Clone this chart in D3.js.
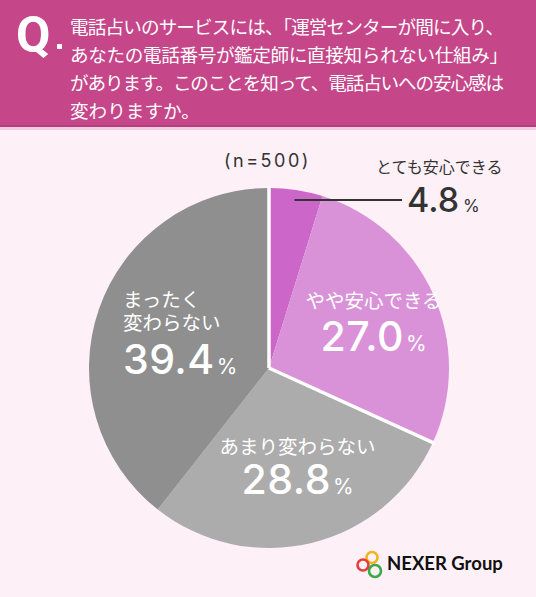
<!DOCTYPE html>
<html>
<head>
<meta charset="utf-8">
<script src="https://d3js.org/d3.v7.min.js"></script>
<style>
  body { margin: 0; background: #fdf0f7; }
  svg { display: block; font-family: "Noto Sans CJK JP", "Noto Sans", sans-serif; }
</style>
</head>
<body>
<div id="chart"></div>
<script>
// data
var categories = ["とても安心できる", "やや安心できる", "あまり変わらない", "まったく変わらない"];
var values = [4.8, 27.0, 28.8, 39.4];
var labelLines = [["とても安心できる"], ["やや安心できる"], ["あまり変わらない"], ["まったく", "変わらない"]];
var sampleText = "(n=500)";
var questionLines = [
  "電話占いのサービスには、「運営センターが間に入り、",
  "あなたの電話番号が鑑定師に直接知られない仕組み」",
  "があります。このことを知って、電話占いへの安心感は",
  "変わりますか。"
];
var colors = ["#cc66c9", "#d992d8", "#acacac", "#8f8f8f"];

var w = 536, h = 597;
var cx = 269, cy = 368, radius = 180;
var numFont = "Inter, 'Noto Sans', sans-serif";

var svg = d3.select("#chart").append("svg")
  .attr("width", w)
  .attr("height", h);

svg.append("rect").attr("width", w).attr("height", h).attr("fill", "#fdf0f7");

// header
svg.append("rect").attr("x", 0).attr("y", 0).attr("width", w).attr("height", 127).attr("fill", "#c6468a");
svg.append("rect").attr("x", 0).attr("y", 125).attr("width", w).attr("height", 2).attr("fill", "#b53d7e");
svg.append("rect").attr("x", 0).attr("y", 127).attr("width", w).attr("height", 3).attr("fill", "#f3cde1");

svg.append("text")
  .attr("x", 16).attr("y", 52)
  .attr("font-family", "Roboto, 'Noto Sans', sans-serif")
  .attr("font-size", 50).attr("font-weight", 700)
  .attr("fill", "#fff")
  .text("Q");
svg.append("rect").attr("x", 57).attr("y", 44).attr("width", 5).attr("height", 5).attr("fill", "#fff");

var qWidths = [434, 438, 434, null];
svg.selectAll(".qline")
  .data(questionLines)
  .enter()
  .append("text")
  .attr("class", "qline")
  .attr("x", 70)
  .attr("y", function(d, i) { return 25 + i * 28.2; })
  .attr("dominant-baseline", "central")
  .attr("font-size", 18.6)
  .attr("fill", "#fff")
  .each(function(d, i) {
    if (qWidths[i]) d3.select(this).attr("textLength", qWidths[i]).attr("lengthAdjust", "spacing");
  })
  .text(function(d) { return d; });

// pie
var pie = d3.pie().sort(null).value(function(d) { return d; });
var arcs = pie(values);
var arc = d3.arc().innerRadius(0).outerRadius(radius);
var labelArc = d3.arc().innerRadius(108).outerRadius(108);
var leaderArc = d3.arc().innerRadius(170).outerRadius(170);

var g = svg.append("g").attr("transform", "translate(" + cx + "," + cy + ")");

g.selectAll("path")
  .data(arcs)
  .enter()
  .append("path")
  .attr("d", arc)
  .attr("fill", function(d, i) { return colors[i]; });

// white separators between the "安心" group and the "変わらない" group
var sepAngles = [arcs[0].startAngle, arcs[1].endAngle];
g.selectAll(".sep")
  .data(sepAngles)
  .enter()
  .append("line")
  .attr("class", "sep")
  .attr("x1", 0).attr("y1", 0)
  .attr("x2", function(a) { return (radius + 2) * Math.sin(a); })
  .attr("y2", function(a) { return -(radius + 2) * Math.cos(a); })
  .attr("stroke", "#fff")
  .attr("stroke-width", 3.5);

// inner labels
var layout = [
  null,
  { anchor: "middle", dx: 6, lineDy: [-24], numDy: 27 },
  { anchor: "middle", dx: 3, lineDy: [-27], numDy: 21 },
  { anchor: "start", dx: -44, lineDy: [-34, -11], numDy: 41 }
];

arcs.forEach(function(d, i) {
  if (i === 0) return;
  var c = labelArc.centroid(d);
  var L = layout[i];
  labelLines[i].forEach(function(line, j) {
    g.append("text")
      .attr("x", c[0] + L.dx)
      .attr("y", c[1] + L.lineDy[j])
      .attr("text-anchor", L.anchor)
      .attr("dominant-baseline", "central")
      .attr("font-size", 19.5)
      .attr("fill", "#fff")
      .text(line);
  });
  var t = g.append("text")
    .attr("x", c[0] + L.dx)
    .attr("y", c[1] + L.numDy)
    .attr("text-anchor", L.anchor)
    .attr("font-family", numFont)
    .attr("fill", "#fff");
  t.append("tspan")
    .attr("font-size", 41)
    .attr("font-weight", 500)
    .attr("letter-spacing", 0.5)
    .text(values[i].toFixed(1));
  t.append("tspan")
    .attr("font-size", 21)
    .attr("font-weight", 400)
    .attr("dx", 2)
    .text("%");
});

// outside label for the small slice
var lp = leaderArc.centroid(arcs[0]);
var lineEnd = 402 - cx;
g.append("line")
  .attr("x1", lp[0]).attr("y1", lp[1])
  .attr("x2", lineEnd).attr("y2", lp[1])
  .attr("stroke", "#333")
  .attr("stroke-width", 2);

var ot = g.append("text")
  .attr("x", lineEnd + 5)
  .attr("y", lp[1] + 12)
  .attr("font-family", numFont)
  .attr("fill", "#333");
ot.append("tspan").attr("font-size", 34).attr("font-weight", 500).text(values[0].toFixed(1));
ot.append("tspan").attr("font-size", 17).attr("dx", 4).text("%");

g.append("text")
  .attr("x", lineEnd - 26)
  .attr("y", lp[1] - 34)
  .attr("dominant-baseline", "central")
  .attr("font-size", 16)
  .attr("fill", "#333")
  .text(labelLines[0][0]);

svg.append("text")
  .attr("x", 224).attr("y", 160)
  .attr("dominant-baseline", "central")
  .attr("font-family", numFont)
  .attr("font-size", 18)
  .attr("letter-spacing", 2.5)
  .attr("fill", "#333")
  .text(sampleText);

// logo
var logo = svg.append("g");
logo.append("circle").attr("cx", 372).attr("cy", 557.5).attr("r", 5.5).attr("fill", "none").attr("stroke", "#f2b31b").attr("stroke-width", 2.6);
logo.append("circle").attr("cx", 363).attr("cy", 565).attr("r", 5.5).attr("fill", "none").attr("stroke", "#e53e3a").attr("stroke-width", 2.6);
logo.append("circle").attr("cx", 375).attr("cy", 571).attr("r", 6).attr("fill", "none").attr("stroke", "#3ba946").attr("stroke-width", 2.6);
logo.append("text")
  .attr("x", 387).attr("y", 570)
  .attr("font-family", "Lato, 'Noto Sans', sans-serif")
  .attr("font-size", 18.5)
  .attr("font-weight", 700)
  .attr("fill", "#111")
  .text("NEXER Group");
</script>
</body>
</html>
